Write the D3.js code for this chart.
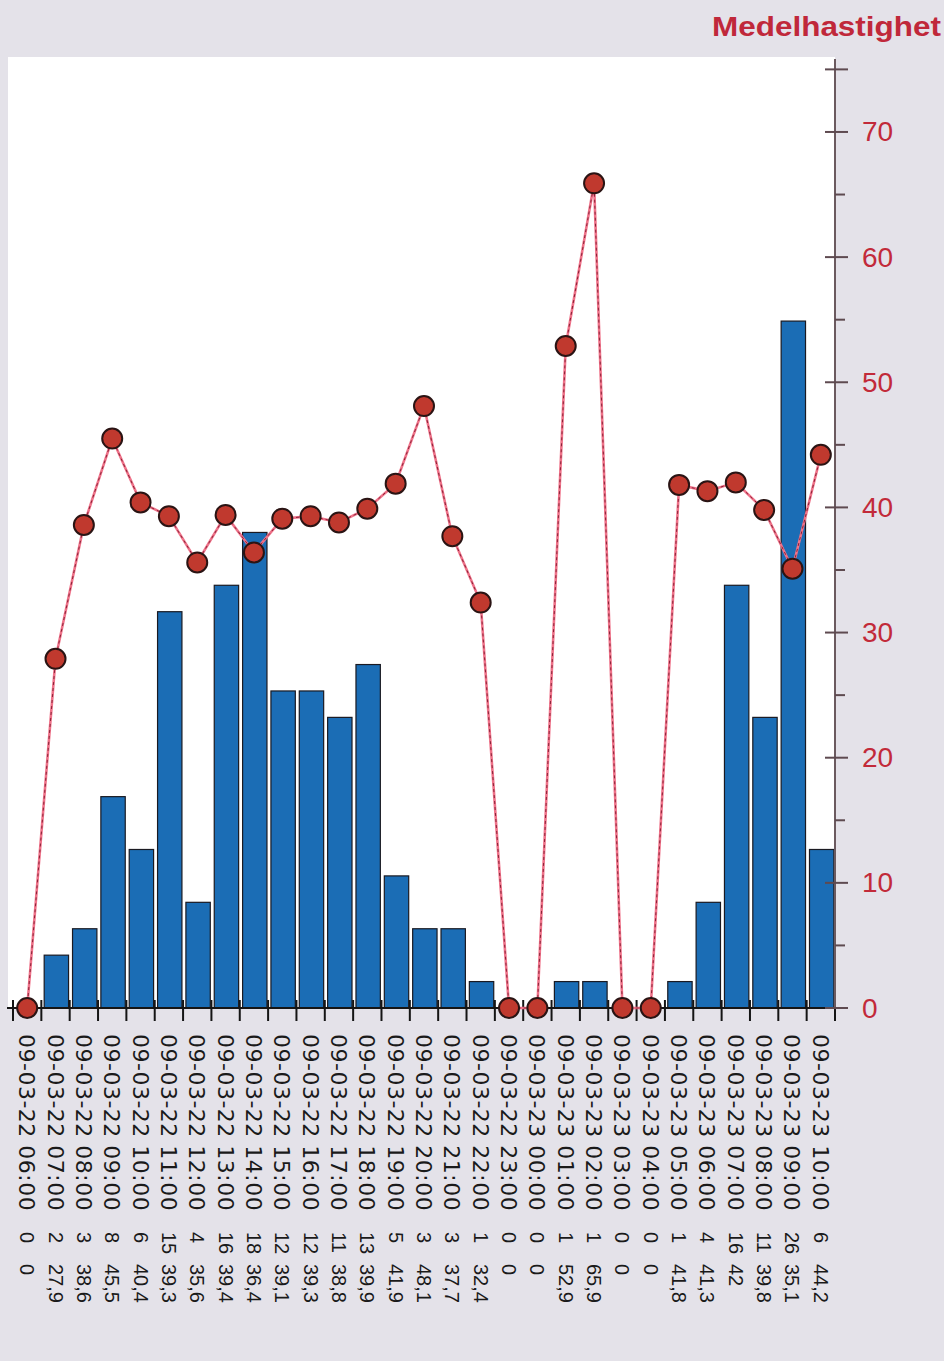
<!DOCTYPE html>
<html>
<head>
<meta charset="utf-8">
<script src="https://cdn.jsdelivr.net/npm/d3@7/dist/d3.min.js"></script>
<style>
  html, body { margin: 0; padding: 0; background: #e4e2e9; }
  svg { display: block; }
</style>
</head>
<body>
<svg id="chart" width="944" height="1361"></svg>
<script>
// ---- data ----
const times = [
  "09-03-22 06:00","09-03-22 07:00","09-03-22 08:00","09-03-22 09:00","09-03-22 10:00",
  "09-03-22 11:00","09-03-22 12:00","09-03-22 13:00","09-03-22 14:00","09-03-22 15:00",
  "09-03-22 16:00","09-03-22 17:00","09-03-22 18:00","09-03-22 19:00","09-03-22 20:00",
  "09-03-22 21:00","09-03-22 22:00","09-03-22 23:00","09-03-23 00:00","09-03-23 01:00",
  "09-03-23 02:00","09-03-23 03:00","09-03-23 04:00","09-03-23 05:00","09-03-23 06:00",
  "09-03-23 07:00","09-03-23 08:00","09-03-23 09:00","09-03-23 10:00"
];
const counts = [0,2,3,8,6,15,4,16,18,12,12,11,13,5,3,3,1,0,0,1,1,0,0,1,4,16,11,26,6];
const speeds = [0,27.9,38.6,45.5,40.4,39.3,35.6,39.4,36.4,39.1,39.3,38.8,39.9,41.9,48.1,37.7,32.4,0,0,52.9,65.9,0,0,41.8,41.3,42,39.8,35.1,44.2];
const speedTicks = [0,10,20,30,40,50,60,70];
const speedMinorTicks = [5,15,25,35,45,55,65];
const speedTopTick = 75;
const titleText = "Medelhastighet";

// ---- layout ----
const svg = d3.select("#chart");
const plotLeft = 8, axisX = 835, plotTop = 57, baseY = 1008, axisTop = 59;
const bandLeft = 13;

const xFull = d3.scaleBand().domain(times).range([bandLeft, axisX]).padding(0);
const ySpeed = d3.scaleLinear().domain([0, 75.83]).range([baseY, axisTop]);
const yCount = d3.scaleLinear().domain([0, 35.92]).range([baseY, axisTop]);

// background plot area
svg.append("rect").attr("x", plotLeft).attr("y", plotTop)
  .attr("width", axisX - plotLeft).attr("height", baseY - plotTop).attr("fill", "#ffffff");

// bars
svg.append("g").selectAll("rect").data(times).join("rect")
  .attr("x", (d) => xFull(d) + xFull.bandwidth() * 0.1)
  .attr("width", xFull.bandwidth() * 0.86)
  .attr("y", (d, i) => yCount(counts[i]))
  .attr("height", (d, i) => baseY - yCount(counts[i]))
  .attr("fill", "#1b6db5")
  .attr("stroke", "#1a1a22")
  .attr("stroke-width", 1.2);

// bottom axis
const gx = svg.append("g");
gx.append("line").attr("x1", 7).attr("x2", 848).attr("y1", baseY).attr("y2", baseY)
  .attr("stroke", "#151515").attr("stroke-width", 2.2);
const boundaries = times.map((d) => xFull(d)).concat([xFull(times[times.length - 1]) + xFull.bandwidth()]);
gx.selectAll("line.tick").data(boundaries).join("line").attr("class", "tick")
  .attr("x1", (d) => d).attr("x2", (d) => d)
  .attr("y1", baseY - 8).attr("y2", baseY + 13)
  .attr("stroke", "#151515").attr("stroke-width", 2);

// right axis
const gy = svg.append("g");
gy.append("line").attr("x1", axisX).attr("x2", axisX).attr("y1", axisTop).attr("y2", baseY)
  .attr("stroke", "#6b5a5f").attr("stroke-width", 2);
gy.selectAll("line.major").data(speedTicks.concat([speedTopTick])).join("line").attr("class", "major")
  .attr("x1", axisX - 10).attr("x2", axisX + 13)
  .attr("y1", (d) => ySpeed(d)).attr("y2", (d) => ySpeed(d))
  .attr("stroke", "#5e4a50").attr("stroke-width", 2);
gy.selectAll("line.minor").data(speedMinorTicks).join("line").attr("class", "minor")
  .attr("x1", axisX).attr("x2", axisX + 10)
  .attr("y1", (d) => ySpeed(d)).attr("y2", (d) => ySpeed(d))
  .attr("stroke", "#5e4a50").attr("stroke-width", 2);
gy.selectAll("text").data(speedTicks).join("text")
  .attr("x", 862).attr("y", (d) => ySpeed(d))
  .attr("dominant-baseline", "central")
  .attr("font-family", "Liberation Sans, Arial, sans-serif")
  .attr("font-size", 28)
  .attr("fill", "#c22a3a")
  .text((d) => d);

// title
svg.append("text").attr("x", 712).attr("y", 36)
  .attr("font-family", "Liberation Sans, Arial, sans-serif")
  .attr("font-size", 27).attr("font-weight", "bold")
  .attr("fill", "#c0283a")
  .attr("textLength", 229).attr("lengthAdjust", "spacingAndGlyphs")
  .text(titleText);

// line
const cx = (d) => xFull(d) + xFull.bandwidth() / 2;
const lineGen = d3.line().x((d, i) => cx(times[i])).y((d) => ySpeed(d));
svg.append("path").datum(speeds).attr("d", lineGen)
  .attr("fill", "none").attr("stroke", "#ef7289").attr("stroke-width", 2.6);
svg.append("path").datum(speeds).attr("d", lineGen)
  .attr("fill", "none").attr("stroke", "#8a2237").attr("stroke-width", 1)
  .attr("stroke-dasharray", "3,3");
svg.append("g").selectAll("circle").data(speeds).join("circle")
  .attr("cx", (d, i) => cx(times[i]))
  .attr("cy", (d) => ySpeed(d))
  .attr("r", 10)
  .attr("fill", "#c0392e")
  .attr("stroke", "#2a1414")
  .attr("stroke-width", 2);

// bottom labels (rotated)
const fmt = (v) => String(v).replace(".", ",");
const labels = svg.append("g")
  .attr("font-family", "DejaVu Sans, Arial, sans-serif")
  .attr("font-size", 22)
  .attr("fill", "#1a1a1a");
times.forEach((t, i) => {
  const txt = labels.append("text")
    .attr("transform", `translate(${cx(t)},0) rotate(90)`)
    .attr("dominant-baseline", "central");
  txt.append("tspan").attr("x", 1034).attr("y", 0).attr("letter-spacing", 0.5).text(t);
  txt.append("tspan").attr("x", 1232).attr("y", 0)
    .attr("font-family", "Liberation Sans, Arial, sans-serif").attr("font-size", 20)
    .text(counts[i]);
  txt.append("tspan").attr("x", 1264).attr("y", 0)
    .attr("font-family", "Liberation Sans, Arial, sans-serif").attr("font-size", 20)
    .text(fmt(speeds[i]));
});
</script>
</body>
</html>
